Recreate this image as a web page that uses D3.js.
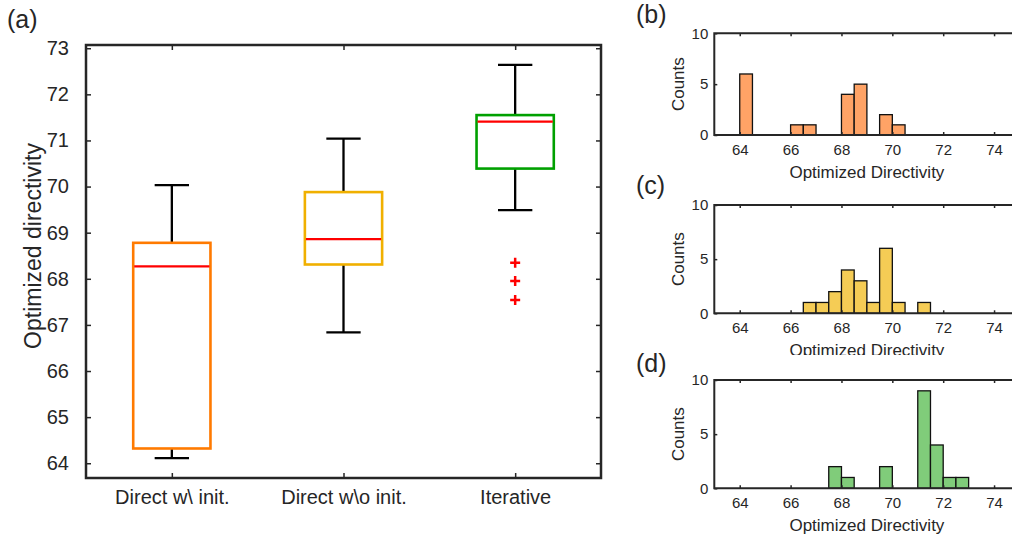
<!DOCTYPE html>
<html>
<head>
<meta charset="utf-8">
<script src="https://cdn.jsdelivr.net/npm/d3@7"></script>
<style>
  body { margin: 0; background: #fff; }
  text { font-family: "Liberation Sans", Arial, sans-serif; fill: #262626; }
</style>
</head>
<body>
<script>
// box plot data
var categories = ["Direct w\\ init.", "Direct w\\o init.", "Iterative"];
var boxColors = ["#ff7a00", "#f0b000", "#00a000"];
var q1 = [64.32, 68.31, 70.39];
var medians = [68.27, 68.86, 71.41];
var q3 = [68.78, 69.88, 71.55];
var whiskerLow = [64.11, 66.84, 69.49];
var whiskerHigh = [70.03, 71.04, 72.64];
var outliers = [[], [], [68.35, 67.95, 67.54]];
var yTicksA = [64, 65, 66, 67, 68, 69, 70, 71, 72, 73];

// histograms: left bin edges and counts
var binWidth = 0.5;
var binsB = [64, 66, 66.5, 68, 68.5, 69.5, 70];
var countsB = [6, 1, 1, 4, 5, 2, 1];
var binsC = [66.5, 67, 67.5, 68, 68.5, 69, 69.5, 70, 71];
var countsC = [1, 1, 2, 4, 3, 1, 6, 1, 1];
var binsD = [67.5, 68, 69.5, 71, 71.5, 72, 72.5];
var countsD = [2, 1, 2, 9, 4, 1, 1];
var histXTicks = [64, 66, 68, 70, 72, 74];
var histYTicks = [0, 5, 10];

var width = 1012, height = 535;
var axisColor = '#262626';

var svg = d3.select('body')
  .append('svg')
  .attr('width', width)
  .attr('height', height);

svg.append('rect').attr('width', width).attr('height', height).attr('fill', '#fff');

// ---------- panel (a) ----------
var a = { left: 86, right: 601, top: 45, bottom: 478 };

var xA = d3.scaleLinear().domain([0.5, 3.5]).range([a.left, a.right]);
var yA = d3.scaleLinear().domain([63.68, 73.07]).range([a.bottom, a.top]);

function styleAxis(g, fontSize) {
  g.select('.domain').remove();
  g.selectAll('.tick line').attr('stroke', axisColor).attr('stroke-width', 1.5);
  g.selectAll('text').attr('fill', axisColor).style('font-size', fontSize + 'px')
    .style('font-family', '"Liberation Sans", Arial, sans-serif');
}

svg.append('g')
  .attr('transform', 'translate(' + a.left + ',0)')
  .call(d3.axisLeft(yA).tickValues(yTicksA).tickSize(-5).tickPadding(17).tickFormat(d3.format('d')))
  .call(styleAxis, 20);

svg.append('g')
  .attr('transform', 'translate(' + a.right + ',0)')
  .call(d3.axisRight(yA).tickValues(yTicksA).tickSize(-5).tickFormat(''))
  .call(styleAxis, 20);

svg.append('g')
  .attr('transform', 'translate(0,' + a.bottom + ')')
  .call(d3.axisBottom(xA).tickValues([1, 2, 3]).tickSize(-5).tickPadding(12)
    .tickFormat(function(d) { return categories[d - 1]; }))
  .call(styleAxis, 20);

svg.append('g')
  .attr('transform', 'translate(0,' + a.top + ')')
  .call(d3.axisTop(xA).tickValues([1, 2, 3]).tickSize(-5).tickFormat(''))
  .call(styleAxis, 20);

svg.append('rect')
  .attr('x', a.left).attr('y', a.top)
  .attr('width', a.right - a.left).attr('height', a.bottom - a.top)
  .attr('fill', 'none').attr('stroke', axisColor).attr('stroke-width', 2.5);

var boxHalf = 0.225, capHalf = 0.1;
var boxes = svg.append('g').selectAll('g')
  .data(categories)
  .enter()
  .append('g');

// whiskers
boxes.append('line')
  .attr('x1', function(d, i) { return xA(i + 1); })
  .attr('x2', function(d, i) { return xA(i + 1); })
  .attr('y1', function(d, i) { return yA(q3[i]); })
  .attr('y2', function(d, i) { return yA(whiskerHigh[i]); })
  .attr('stroke', '#000').attr('stroke-width', 2.3);
boxes.append('line')
  .attr('x1', function(d, i) { return xA(i + 1); })
  .attr('x2', function(d, i) { return xA(i + 1); })
  .attr('y1', function(d, i) { return yA(q1[i]); })
  .attr('y2', function(d, i) { return yA(whiskerLow[i]); })
  .attr('stroke', '#000').attr('stroke-width', 2.3);
boxes.append('line')
  .attr('x1', function(d, i) { return xA(i + 1 - capHalf); })
  .attr('x2', function(d, i) { return xA(i + 1 + capHalf); })
  .attr('y1', function(d, i) { return yA(whiskerHigh[i]); })
  .attr('y2', function(d, i) { return yA(whiskerHigh[i]); })
  .attr('stroke', '#000').attr('stroke-width', 2.3);
boxes.append('line')
  .attr('x1', function(d, i) { return xA(i + 1 - capHalf); })
  .attr('x2', function(d, i) { return xA(i + 1 + capHalf); })
  .attr('y1', function(d, i) { return yA(whiskerLow[i]); })
  .attr('y2', function(d, i) { return yA(whiskerLow[i]); })
  .attr('stroke', '#000').attr('stroke-width', 2.3);

// boxes
boxes.append('rect')
  .attr('x', function(d, i) { return xA(i + 1 - boxHalf); })
  .attr('width', function() { return xA(1 + boxHalf) - xA(1 - boxHalf); })
  .attr('y', function(d, i) { return yA(q3[i]); })
  .attr('height', function(d, i) { return yA(q1[i]) - yA(q3[i]); })
  .attr('fill', '#fff')
  .attr('stroke', function(d, i) { return boxColors[i]; })
  .attr('stroke-width', 2.6);

// medians
boxes.append('line')
  .attr('x1', function(d, i) { return xA(i + 1 - boxHalf) + 1; })
  .attr('x2', function(d, i) { return xA(i + 1 + boxHalf) - 1; })
  .attr('y1', function(d, i) { return yA(medians[i]); })
  .attr('y2', function(d, i) { return yA(medians[i]); })
  .attr('stroke', '#ff0000').attr('stroke-width', 2.3);

// outliers as red plus signs
boxes.each(function(d, i) {
  d3.select(this).selectAll('path.out')
    .data(outliers[i])
    .enter()
    .append('path')
    .attr('class', 'out')
    .attr('d', function(v) {
      var cx = xA(i + 1), cy = yA(v), s = 5;
      return 'M' + (cx - s) + ',' + cy + 'H' + (cx + s) + 'M' + cx + ',' + (cy - s) + 'V' + (cy + s);
    })
    .attr('stroke', '#ff0000').attr('stroke-width', 2.5);
});

svg.append('text')
  .attr('transform', 'translate(41,246) rotate(-90)')
  .attr('text-anchor', 'middle')
  .style('font-size', '23px')
  .text('Optimized directivity');

svg.append('text').attr('x', 7).attr('y', 28).style('font-size', '25px').text('(a)');

// ---------- histograms ----------
var histLeft = 714.3, histRight = 1019.5;
var xH = d3.scaleLinear().domain([63, 75]).range([histLeft, histRight]);

var panels = [
  { label: '(b)', top: 33.3, bottom: 135, bins: binsB, counts: countsB, fill: '#ffa366', clipTop: null, labelY: 23 },
  { label: '(c)', top: 205, bottom: 313.3, bins: binsC, counts: countsC, fill: '#f5cc55', clipTop: 182, labelY: 194 },
  { label: '(d)', top: 380, bottom: 488.3, bins: binsD, counts: countsD, fill: '#80cc7a', clipTop: 355, labelY: 372 }
];

panels.forEach(function(p) {
  var g = svg.append('g');
  // white background so the panel sits over the label of the one above
  if (p.clipTop !== null) {
    g.append('rect').attr('x', 615).attr('y', p.clipTop)
      .attr('width', width - 615).attr('height', p.bottom + 50 - p.clipTop)
      .attr('fill', '#fff');
  }

  var yH = d3.scaleLinear().domain([0, 10]).range([p.bottom, p.top]);

  g.selectAll('rect.bar')
    .data(p.bins)
    .enter()
    .append('rect')
    .attr('class', 'bar')
    .attr('x', function(d) { return xH(d); })
    .attr('width', xH(63 + binWidth) - xH(63))
    .attr('y', function(d, i) { return yH(p.counts[i]); })
    .attr('height', function(d, i) { return yH(0) - yH(p.counts[i]); })
    .attr('fill', p.fill)
    .attr('stroke', '#111').attr('stroke-width', 1.3);

  g.append('g')
    .attr('transform', 'translate(0,' + p.bottom + ')')
    .call(d3.axisBottom(xH).tickValues(histXTicks).tickSize(-3).tickPadding(9))
    .call(styleAxis, 15);
  g.append('g')
    .attr('transform', 'translate(0,' + p.top + ')')
    .call(d3.axisTop(xH).tickValues(histXTicks).tickSize(-3).tickFormat(''))
    .call(styleAxis, 15);
  g.append('g')
    .attr('transform', 'translate(' + histLeft + ',0)')
    .call(d3.axisLeft(yH).tickValues(histYTicks).tickSize(-3).tickPadding(6))
    .call(styleAxis, 15);

  g.append('path')
    .attr('d', 'M' + histRight + ',' + p.top + 'H' + histLeft + 'V' + p.bottom + 'H' + histRight)
    .attr('fill', 'none').attr('stroke', axisColor).attr('stroke-width', 2);

  g.append('text')
    .attr('transform', 'translate(684,' + ((p.top + p.bottom) / 2) + ') rotate(-90)')
    .attr('text-anchor', 'middle')
    .style('font-size', '17px')
    .text('Counts');

  g.append('text')
    .attr('x', xH(69)).attr('y', p.bottom + 43)
    .attr('text-anchor', 'middle')
    .style('font-size', '17px')
    .text('Optimized Directivity');

  g.append('text').attr('x', 636).attr('y', p.labelY).style('font-size', '25px').text(p.label);
});
</script>
</body>
</html>
